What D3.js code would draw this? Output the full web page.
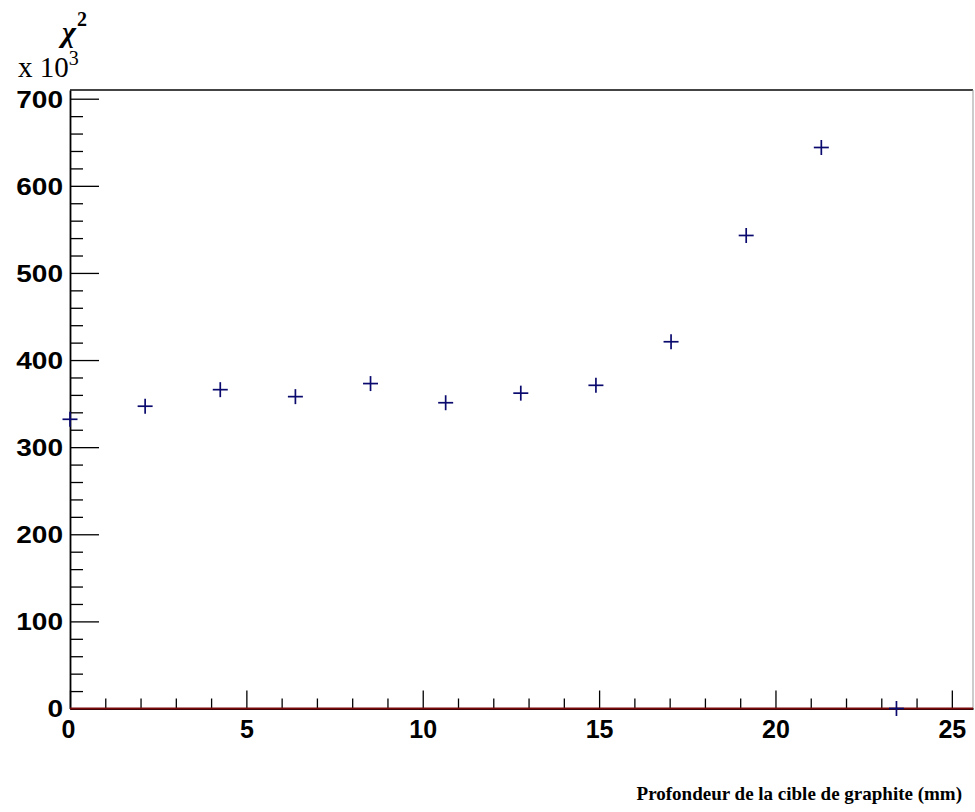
<!DOCTYPE html>
<html><head><meta charset="utf-8">
<script src="https://cdn.jsdelivr.net/npm/d3@7"></script>
<style>
html,body{margin:0;padding:0;background:#fff;}
svg{display:block;}
</style>
</head><body>
<svg id="c" width="975" height="812"></svg>
<script>
// data (x: depth mm, y: chi2 in units of 10^3)
const depth = [0, 2.13, 4.26, 6.39, 8.52, 10.65, 12.78, 14.91, 17.04, 19.17, 21.30, 23.43];
const chi2  = [332, 347, 366, 358, 373, 351, 362, 371, 421, 543, 644, 0];
const xMajorTicks = [0, 5, 10, 15, 20, 25];
const yMajorTicks = [0, 100, 200, 300, 400, 500, 600, 700];
const xTitle = "Profondeur de la cible de graphite (mm)";

const svg = d3.select("#c");
const L = 70, R = 973, T = 90, B = 708.5;
const x = d3.scaleLinear().domain([0, 25.6]).range([L, R]);
const y = d3.scaleLinear().domain([0, 710]).range([B, T]);

// frame top & right
svg.append("line").attr("x1", L).attr("x2", R).attr("y1", T).attr("y2", T)
  .attr("stroke", "#444").attr("stroke-width", 2);
svg.append("line").attr("x1", R).attr("x2", R).attr("y1", T).attr("y2", B)
  .attr("stroke", "#999").attr("stroke-width", 1);

// y axis minor ticks
const yMinor = d3.range(0, 701, 20).filter(v => v % 100 !== 0);
svg.append("g").attr("transform", `translate(${L},0)`)
  .call(d3.axisLeft(y).tickValues(yMinor).tickSize(-13).tickFormat(""))
  .call(g => g.select(".domain").remove())
  .call(g => g.selectAll("line").attr("stroke", "#000").attr("stroke-width", 1.3));
// y axis major
const ya = svg.append("g").attr("transform", `translate(${L},0)`)
  .call(d3.axisLeft(y).tickValues(yMajorTicks).tickSize(-29).tickPadding(7).tickSizeOuter(0));
ya.select(".domain").attr("stroke", "#000").attr("stroke-width", 1.8);
ya.selectAll("line").attr("stroke", "#000").attr("stroke-width", 1.3);
ya.selectAll("text").attr("font-family", "'Liberation Sans', Arial, sans-serif")
  .attr("font-weight", "bold").attr("font-size", 23).attr("fill", "#000")
  .attr("x", -7 / 1.22).attr("transform", "scale(1.22,1)")
  .attr("dy", "0.36em");

// x axis minor
const xMinor = d3.range(1, 26, 1).filter(v => v % 5 !== 0);
svg.append("g").attr("transform", `translate(0,${B})`)
  .call(d3.axisBottom(x).tickValues(xMinor).tickSize(-10).tickFormat(""))
  .call(g => g.select(".domain").remove())
  .call(g => g.selectAll("line").attr("stroke", "#000").attr("stroke-width", 1.3));
// x axis major
const xa = svg.append("g").attr("transform", `translate(0,${B})`)
  .call(d3.axisBottom(x).tickValues(xMajorTicks).tickSize(-18).tickPadding(11.5).tickSizeOuter(0));
xa.select(".domain").attr("stroke", "#000").attr("stroke-width", 1.8);
xa.selectAll("line").attr("stroke", "#000").attr("stroke-width", 1.3);
xa.selectAll("text").attr("font-family", "'Liberation Sans', Arial, sans-serif")
  .attr("font-weight", "bold").attr("font-size", 25).attr("fill", "#000");
xa.selectAll(".tick").filter(d => d === 0).select("text").attr("dx", "-2");

// red line at zero
svg.append("line").attr("x1", x(0)).attr("x2", x(25.6)).attr("y1", y(0)).attr("y2", y(0))
  .attr("stroke", "#7a0a0a").attr("stroke-width", 2);

// markers (+)
const s = 7.5;
const pts = svg.append("g").selectAll("g").data(depth.map((d, i) => [d, chi2[i]])).join("g")
  .attr("transform", d => `translate(${x(d[0])},${y(d[1])})`);
pts.append("line").attr("x1", -s).attr("x2", s).attr("y1", 0).attr("y2", 0)
  .attr("stroke", "#0a0a6e").attr("stroke-width", 1.7);
pts.append("line").attr("x1", 0).attr("x2", 0).attr("y1", -s).attr("y2", s)
  .attr("stroke", "#0a0a6e").attr("stroke-width", 1.7);

// y title chi^2
const yt = svg.append("text").attr("x", 62).attr("y", 42)
  .attr("font-family", "'Liberation Serif', 'Times New Roman', serif").attr("font-size", 30)
  .attr("font-style", "italic").attr("font-weight", "bold").attr("fill", "#000");
yt.append("tspan").text("χ");
yt.append("tspan").attr("font-size", 20).attr("font-style", "normal").attr("dy", -16).attr("dx", 1).text("2");

// x 10^3
const ex = svg.append("text").attr("x", 18).attr("y", 77)
  .attr("font-family", "'Liberation Serif', 'Times New Roman', serif").attr("font-size", 29)
  .attr("fill", "#000");
ex.append("tspan").text("x 10");
ex.append("tspan").attr("font-size", 20).attr("dy", -12).text("3");

// x title
svg.append("text").attr("x", 962).attr("y", 800).attr("text-anchor", "end")
  .attr("font-family", "'Liberation Serif', 'Times New Roman', serif").attr("font-size", 19)
  .attr("font-weight", "bold").attr("fill", "#000").text(xTitle);
</script>
</body></html>
